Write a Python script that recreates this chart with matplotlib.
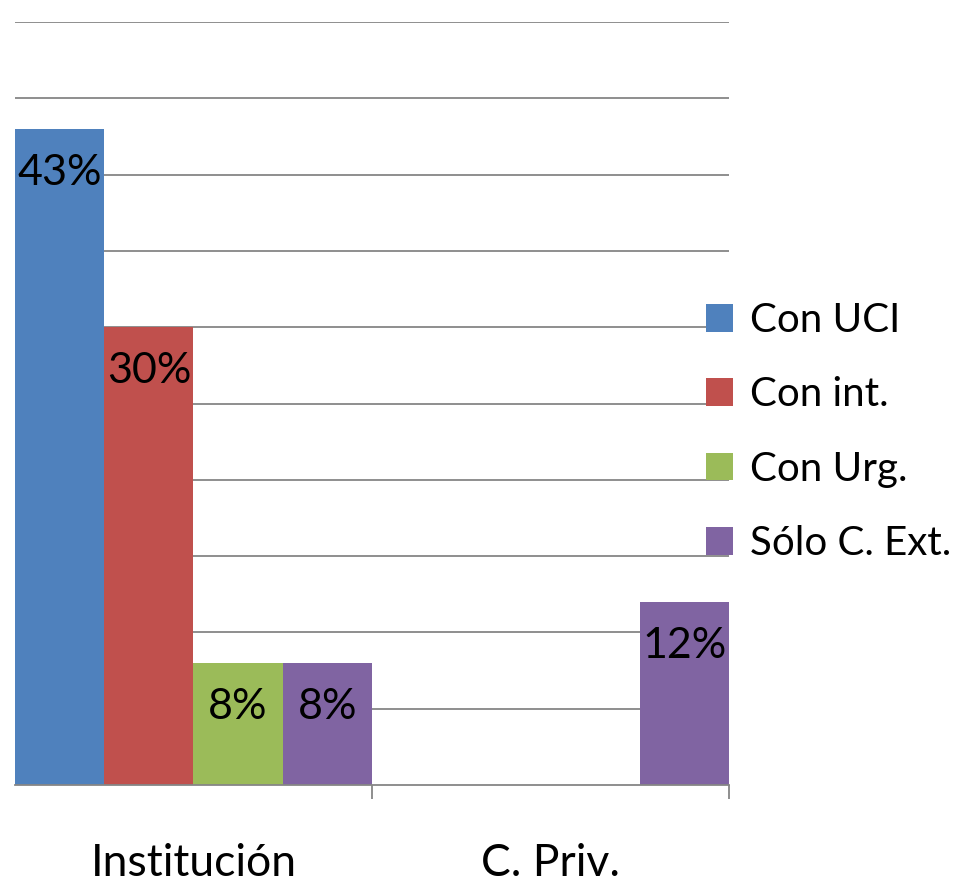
import matplotlib
matplotlib.use("Agg")
import matplotlib.pyplot as plt
from matplotlib.patches import Patch
import numpy as np

plt.rcParams['font.family'] = ['Lato', 'DejaVu Sans']

categories = ["Institución", "C. Priv."]
series_names = ["Con UCI", "Con int.", "Con Urg.", "Sólo C. Ext."]
values = {
    "Con UCI": [43, 0],
    "Con int.": [30, 0],
    "Con Urg.": [8, 0],
    "Sólo C. Ext.": [8, 12],
}
colors = ["#4F81BD", "#C0504D", "#9BBB59", "#8064A2"]

W, H = 979, 883
fig = plt.figure(figsize=(W / 100, H / 100), dpi=100)
ax = fig.add_axes([15 / W, (H - 785) / H, (729 - 15) / W, (785 - 22) / H])

x = np.arange(len(categories))
bw = 0.25
for i, name in enumerate(series_names):
    pos = x + (i - 1.5) * bw
    bars = ax.bar(pos, values[name], width=bw, color=colors[i], zorder=2, linewidth=0)
    for b, v in zip(bars, values[name]):
        if v > 0:
            ax.annotate(f"{v}%", (b.get_x() + b.get_width() / 2, v),
                        xytext=(0, -31.5), textcoords="offset points",
                        ha="center", va="center", fontsize=31, color="black", zorder=3)

ax.set_xlim(-0.5, 1.5)
ax.set_ylim(0, 50)
ax.set_yticks(np.arange(5, 51, 5))
ax.yaxis.grid(True, color="#868686", linewidth=1.3, zorder=0)
ax.tick_params(axis="y", left=False, labelleft=False)

ax.set_xticks([0.5, 1.5])
ax.set_xticklabels([])
ax.tick_params(axis="x", which="major", length=10, width=1.3, color="#868686")
ax.set_xticks(x, minor=True)
ax.set_xticklabels(categories, minor=True, fontsize=32)
ax.tick_params(axis="x", which="minor", length=0, pad=42)

for s in ["top", "right", "left"]:
    ax.spines[s].set_visible(False)
ax.spines["bottom"].set_color("#868686")
ax.spines["bottom"].set_linewidth(1.3)

handles = [Patch(facecolor=c, edgecolor="none") for c in colors]
fig.legend(handles, series_names, loc="center left",
           bbox_to_anchor=(706 / W, 1 - 432 / H), frameon=False,
           fontsize=29, handlelength=0.68, handleheight=0.68,
           handletextpad=0.4, labelspacing=0.93, borderpad=0, borderaxespad=0)

fig.savefig("out.png", dpi=100)
